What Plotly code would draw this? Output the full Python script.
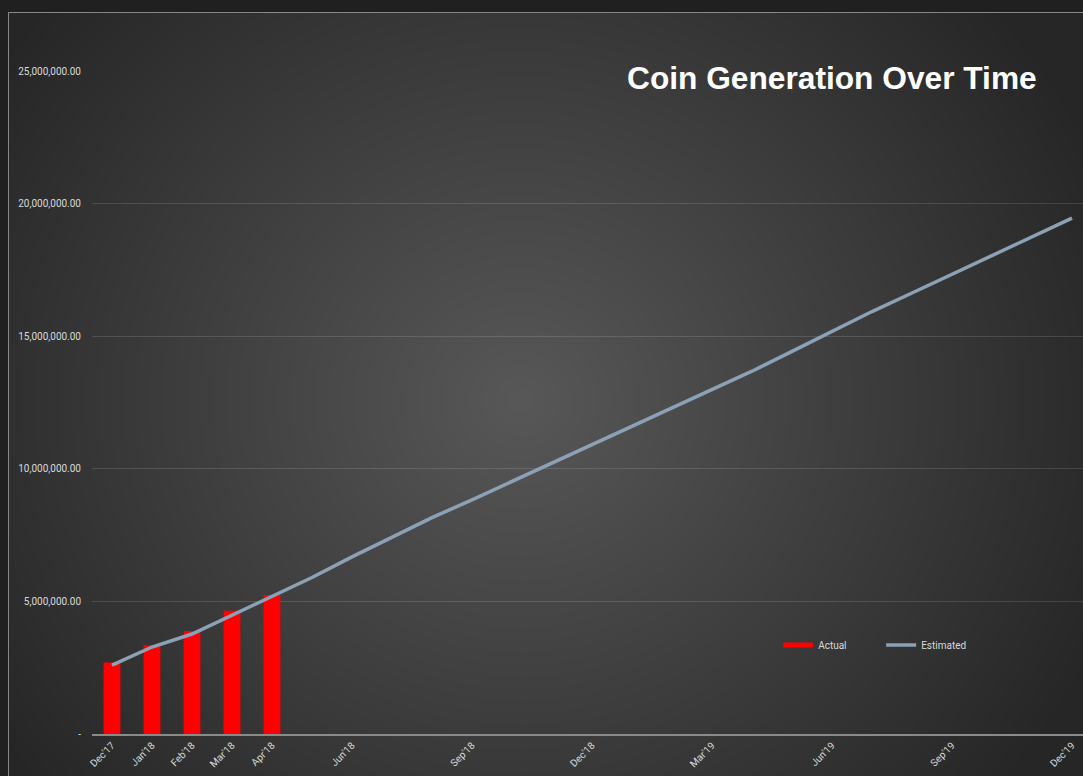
import plotly.graph_objects as go
import numpy as np
import zlib, struct, base64

# ---------------- data ----------------
months = ["Dec'17", "Jan'18", "Feb'18", "Mar'18", "Apr'18", "May'18", "Jun'18", "Jul'18",
          "Aug'18", "Sep'18", "Oct'18", "Nov'18", "Dec'18", "Jan'19", "Feb'19", "Mar'19",
          "Apr'19", "May'19", "Jun'19", "Jul'19", "Aug'19", "Sep'19", "Oct'19", "Nov'19", "Dec'19"]
actual = [2700000, 3350000, 3880000, 4650000, 5240000] + [None] * 20
estimated = [2600000, 3280000, 3770000, 4480000, 5210000, 5900000, 6680000, 7430000,
             8160000, 8830000, 9520000, 10210000, 10900000, 11590000, 12270000, 12960000,
             13680000, 14430000, 15170000, 15930000, 16630000, 17330000, 18040000, 18750000,
             19450000]
x_tick_labels = ["Dec'17", "Jan'18", "Feb'18", "Mar'18", "Apr'18", "Jun'18", "Sep'18",
                 "Dec'18", "Mar'19", "Jun'19", "Sep'19", "Dec'19"]
y_tick_vals = [0, 5000000, 10000000, 15000000, 20000000, 25000000]
y_tick_text = ["-", "5,000,000.00", "10,000,000.00", "15,000,000.00", "20,000,000.00", "25,000,000.00"]

# ---------------- background (radial gradient) ----------------
W, H = 1083, 776
yy, xx = np.mgrid[0:H, 0:W].astype(float)
cx, cy, rx, ry = 520.0, 400.0, 640.0, 600.0
t = np.clip(np.sqrt(((xx - cx) / rx) ** 2 + ((yy - cy) / ry) ** 2), 0, 1)
v = 88 - (88 - 38) * t
img = np.repeat(v[:, :, None], 3, axis=2)
img[:, :8] = 32
img[:12, :] = 32
img[12:, 8] = 135
img[12, 8:] = 135
img = img.astype(np.uint8)


def png_bytes(arr):
    h, w, _ = arr.shape
    raw = b"".join(b"\x00" + arr[r].tobytes() for r in range(h))

    def chunk(tag, data):
        c = struct.pack(">I", len(data)) + tag + data
        return c + struct.pack(">I", zlib.crc32(tag + data) & 0xFFFFFFFF)

    return (b"\x89PNG\r\n\x1a\n" + chunk(b"IHDR", struct.pack(">IIBBBBB", w, h, 8, 2, 0, 0, 0))
            + chunk(b"IDAT", zlib.compress(raw, 9)) + chunk(b"IEND", b""))


bg_uri = "data:image/png;base64," + base64.b64encode(png_bytes(img)).decode()

# ---------------- figure ----------------
ML, MR, MT, MB = 92, 0, 71, 42
PW, PH = W - ML - MR, H - MT - MB

fig = go.Figure()
fig.add_trace(go.Bar(x=months, y=actual, name="Actual", marker_color="#ff0000",
                     marker_line_width=0, showlegend=False, legendgroup="a"))
# legend entry for the bars (Excel-style wide swatch)
fig.add_trace(go.Scatter(x=[None], y=[None], name="Actual", mode="lines",
                         line=dict(color="#ff0000", width=5), legend="legend", legendgroup="a"))
fig.add_trace(go.Scatter(x=months, y=estimated, name="Estimated", mode="lines",
                         line=dict(color="#8ba1b6", width=3.5), legend="legend2"))

tick_font = dict(family="Roboto", size=10, color="#d9d9d9")
leg_font = dict(family="Roboto", size=10, color="#d9d9d9")
fig.update_layout(
    width=W, height=H,
    margin=dict(l=ML, r=MR, t=MT, b=MB),
    paper_bgcolor="#202020",
    plot_bgcolor="rgba(0,0,0,0)",
    bargap=0.58,
    images=[dict(source=bg_uri, xref="paper", yref="paper",
                 x=-ML / PW, y=1 + MT / PH, sizex=W / PW, sizey=H / PH,
                 xanchor="left", yanchor="top", sizing="stretch", layer="below")],
    xaxis=dict(type="category", categoryorder="array", categoryarray=months,
               range=[-0.5, (W - ML) / 40 - 0.5],
               tickmode="array", tickvals=x_tick_labels, ticktext=x_tick_labels,
               tickangle=-45, tickfont=tick_font, showgrid=False,
               showline=True, linecolor="#8a8a8a", linewidth=1.5, ticks="", zeroline=False),
    yaxis=dict(range=[0, 25000000], tickmode="array", tickvals=y_tick_vals, ticktext=y_tick_text,
               tickfont=tick_font, showgrid=True, gridcolor="rgba(255,255,255,0.13)", gridwidth=1,
               zeroline=False, showline=False, ticks="", ticklabelstandoff=10),
    legend=dict(x=(793 - ML) / PW - 0.015, y=(734 - 645) / PH, xanchor="left", yanchor="middle",
                bgcolor="rgba(0,0,0,0)", font=leg_font),
    legend2=dict(x=(896 - ML) / PW - 0.015, y=(734 - 645) / PH, xanchor="left", yanchor="middle",
                 bgcolor="rgba(0,0,0,0)", font=leg_font),
    annotations=[dict(text="<b>Coin Generation Over Time</b>", xref="paper", yref="paper",
                      x=(1039 - ML) / PW, y=(734 - 78) / PH, xanchor="right", yanchor="middle",
                      showarrow=False,
                      font=dict(family="Liberation Sans", size=31.7, color="#ffffff"))],
    showlegend=True,
)

fig.write_html("out.html", config={"displayModeBar": False},
               post_script="document.body.style.margin='0';document.body.style.overflow='hidden';")
